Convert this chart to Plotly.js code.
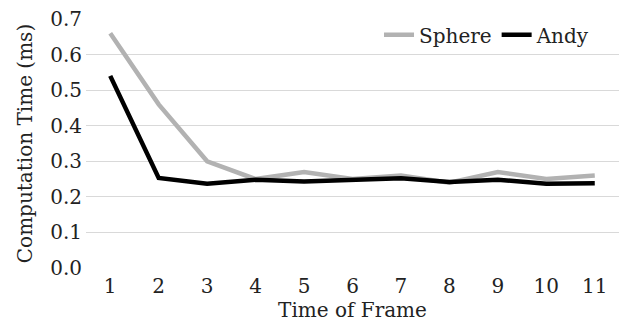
<!DOCTYPE html>
<html>
<head>
<meta charset="utf-8">
<script src="https://cdn.plot.ly/plotly-3.0.1.min.js"></script>
<style>html,body{margin:0;padding:0;background:#fff;}#chart{width:628px;height:323px;}</style>
</head>
<body>
<div id="chart"></div>
<script>
const frames = ['1','2','3','4','5','6','7','8','9','10','11'];
const sphere = [0.66, 0.46, 0.30, 0.25, 0.27, 0.25, 0.26, 0.24, 0.27, 0.25, 0.26];
const andy = [0.54, 0.253, 0.237, 0.248, 0.243, 0.248, 0.252, 0.242, 0.248, 0.237, 0.238];
const yTicks = [0, 0.1, 0.2, 0.3, 0.4, 0.5, 0.6, 0.7];
const yTickText = ['0.0','0.1','0.2','0.3','0.4','0.5','0.6','0.7'];

const font = {family: 'DejaVu Serif, serif', size: 20, color: '#222'};
const traces = [
  {x: frames, y: sphere, name: 'Sphere', type: 'scatter', mode: 'lines',
   line: {color: '#b2b2b2', width: 4.5}},
  {x: frames, y: andy, name: 'Andy', type: 'scatter', mode: 'lines',
   line: {color: '#000000', width: 4.5}}
];
const layout = {
  width: 628, height: 323,
  margin: {l: 86, r: 9, t: 19, b: 55},
  paper_bgcolor: '#fff', plot_bgcolor: '#fff',
  font: font,
  showlegend: true,
  legend: {orientation: 'h', x: 0.955, xanchor: 'right', y: 1.015, yanchor: 'top',
           bgcolor: 'rgba(0,0,0,0)', font: font, itemwidth: 30, tracegroupgap: 0},
  xaxis: {type: 'category', range: [-0.5, 10.5], showgrid: false, zeroline: false,
          showline: false, ticks: '', tickfont: font, automargin: false,
          ticklabelstandoff: 4,
          title: {text: 'Time of Frame', font: font, standoff: 0}},
  yaxis: {range: [0, 0.7], tickvals: yTicks, ticktext: yTickText, showgrid: true,
          gridcolor: '#d9d9d9', gridwidth: 1, zeroline: false, showline: false,
          ticks: '', tickfont: font, automargin: false, ticklabelstandoff: 3,
          title: {text: 'Computation Time (ms)', font: font, standoff: 12}}
};
Plotly.newPlot('chart', traces, layout, {staticPlot: true, displayModeBar: false});
</script>
</body>
</html>
